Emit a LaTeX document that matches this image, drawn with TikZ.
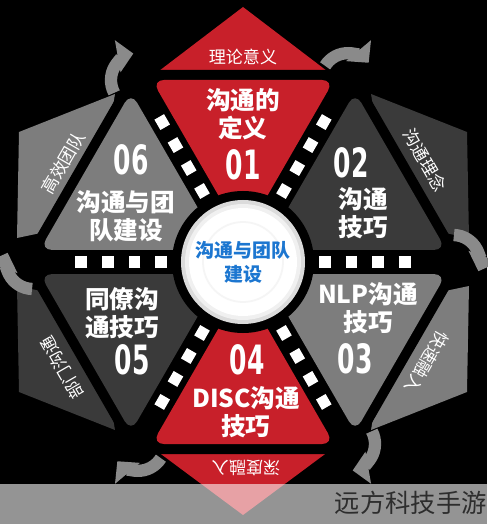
\documentclass[tikz,border=0pt]{standalone}
\usepackage{fontspec}
\usepackage{graphicx}
\setmainfont{Noto Sans CJK SC}
\newfontfamily\numfont{DejaVu Sans}
\usepackage{tikz}
\usetikzlibrary{arrows.meta}

\definecolor{hexred}{RGB}{200,32,42}
\definecolor{hexdark}{RGB}{58,58,58}
\definecolor{hexmid}{RGB}{125,125,125}
\definecolor{arrowgray}{RGB}{138,138,138}
\definecolor{titleblue}{RGB}{28,118,208}
\definecolor{markgray}{RGB}{45,45,45}

\newcommand{\bignum}[1]{{\numfont\bfseries\scalebox{0.62}[1]{#1}}}

\begin{document}
\begin{tikzpicture}[x=0.02cm, y=0.02cm,
    boxtext/.style={text=white, font=\bfseries\fontsize{14pt}{16pt}\selectfont, align=center, inner sep=0pt},
    numtext/.style={text=white, font=\fontsize{23pt}{24pt}\selectfont, inner sep=0pt},
    tablabel/.style={text=white, font=\fontsize{9.7pt}{12pt}\selectfont, inner sep=0pt},
    turnarrow/.style={arrowgray, line width=7pt, -{Triangle[length=9pt, width=18pt]}},
    spokedash/.style={white, line width=6.3pt, dash pattern=on 6.8pt off 8.3pt}]
    % Background
    \fill[black] (-243,-262) rectangle (244,262);
    \useasboundingbox (-243,-262) rectangle (244,262);

    % Outer tabs
    \fill[hexred] (0,255) -- (105,175) -- (-105,175) -- cycle;
    \fill[hexred] (0,-253) -- (105,-175) -- (-105,-175) -- cycle;
    \fill[hexdark] (128,168) -- (224,130) -- (226,24) -- (150,40) -- cycle;
    \fill[hexmid] (128,-168) -- (224,-130) -- (226,-24) -- (150,-40) -- cycle;
    \fill[hexmid] (-128,168) -- (-224,130) -- (-226,24) -- (-150,40) -- cycle;
    \fill[hexdark] (-128,-168) -- (-224,-130) -- (-226,-24) -- (-150,-40) -- cycle;

    % Black hexagon frame
    \fill[black] (0:221.7) -- (60:221.7) -- (120:221.7) -- (180:221.7) -- (240:221.7) -- (300:221.7) -- cycle;

    % Turning arrows at the corners
    \foreach \ang in {0,60,...,300}
        \draw[turnarrow, shift={(\ang:210)}] (\ang+88:27) arc[start angle=\ang+88, end angle=\ang-20, radius=27];

    % Six inner triangles
    \foreach \b/\col in {90/hexred, 30/hexdark, -30/hexmid, -90/hexred, -150/hexdark, 150/hexmid}
        \fill[\col, rounded corners=7pt] (\b:24) -- (\b+26.6:203.6) -- (\b-26.6:203.6) -- cycle;

    % Dashed spokes
    \foreach \a in {0,60,...,300}
        \draw[spokedash] (\a:76) -- (\a:168);

    % Centre disc
    \fill[black] (0,0) circle[radius=71];
    \fill[gray!28] (0,0) circle[radius=62];
    \fill[gray!12] (0,0) circle[radius=58];
    \fill[white] (0,0) circle[radius=54];
    \draw[gray!8, line width=1pt] (0,0) circle[radius=40];
    \node[text=titleblue, font=\bfseries\fontsize{10.8pt}{13.6pt}\selectfont, align=center, inner sep=0pt] (core) at (0,0) {沟通与团队\\建设};

    % Triangle labels
    \node[boxtext] (t01) at (0,148) {沟通的\\定义};
    \node[numtext] (n01) at (0,97) {\bignum{01}};
    \node[numtext] (n02) at (108,99) {\bignum{02}};
    \node[boxtext] (t02) at (120,49) {沟通\\技巧};
    \node[boxtext] (t03) at (125,-46) {NLP沟通\\技巧};
    \node[numtext] (n03) at (112,-97) {\bignum{03}};
    \node[numtext] (n04) at (4,-98) {\bignum{04}};
    \node[boxtext] (t04) at (3,-150) {DISC沟通\\技巧};
    \node[boxtext] (t05) at (-121,-51) {同僚沟\\通技巧};
    \node[numtext] (n05) at (-111,-98) {\bignum{05}};
    \node[numtext] (n06) at (-112,102) {\bignum{06}};
    \node[boxtext] (t06) at (-117,46) {沟通与团\\队建设};

    % Tab labels
    \node[tablabel] (l1) at (0,205) {理论意义};
    \node[tablabel, rotate=-60] (l2) at (182,102) {沟通理念};
    \node[tablabel, rotate=-120] (l3) at (184,-100) {快速融入};
    \node[tablabel, rotate=180] (l4) at (3,-206) {深度融入};
    \node[tablabel, rotate=120] (l5) at (-181,-106) {部门沟通};
    \node[tablabel, rotate=60] (l6) at (-180,99) {高效团队};

    % Watermark band
    \fill[white, opacity=0.58] (-243,-222) rectangle (244,-262);
    \node[text=markgray, font=\fontsize{14.4pt}{16pt}\selectfont, anchor=east, inner sep=0pt] (mark) at (244,-241) {远方科技手游};
\end{tikzpicture}
\end{document}
